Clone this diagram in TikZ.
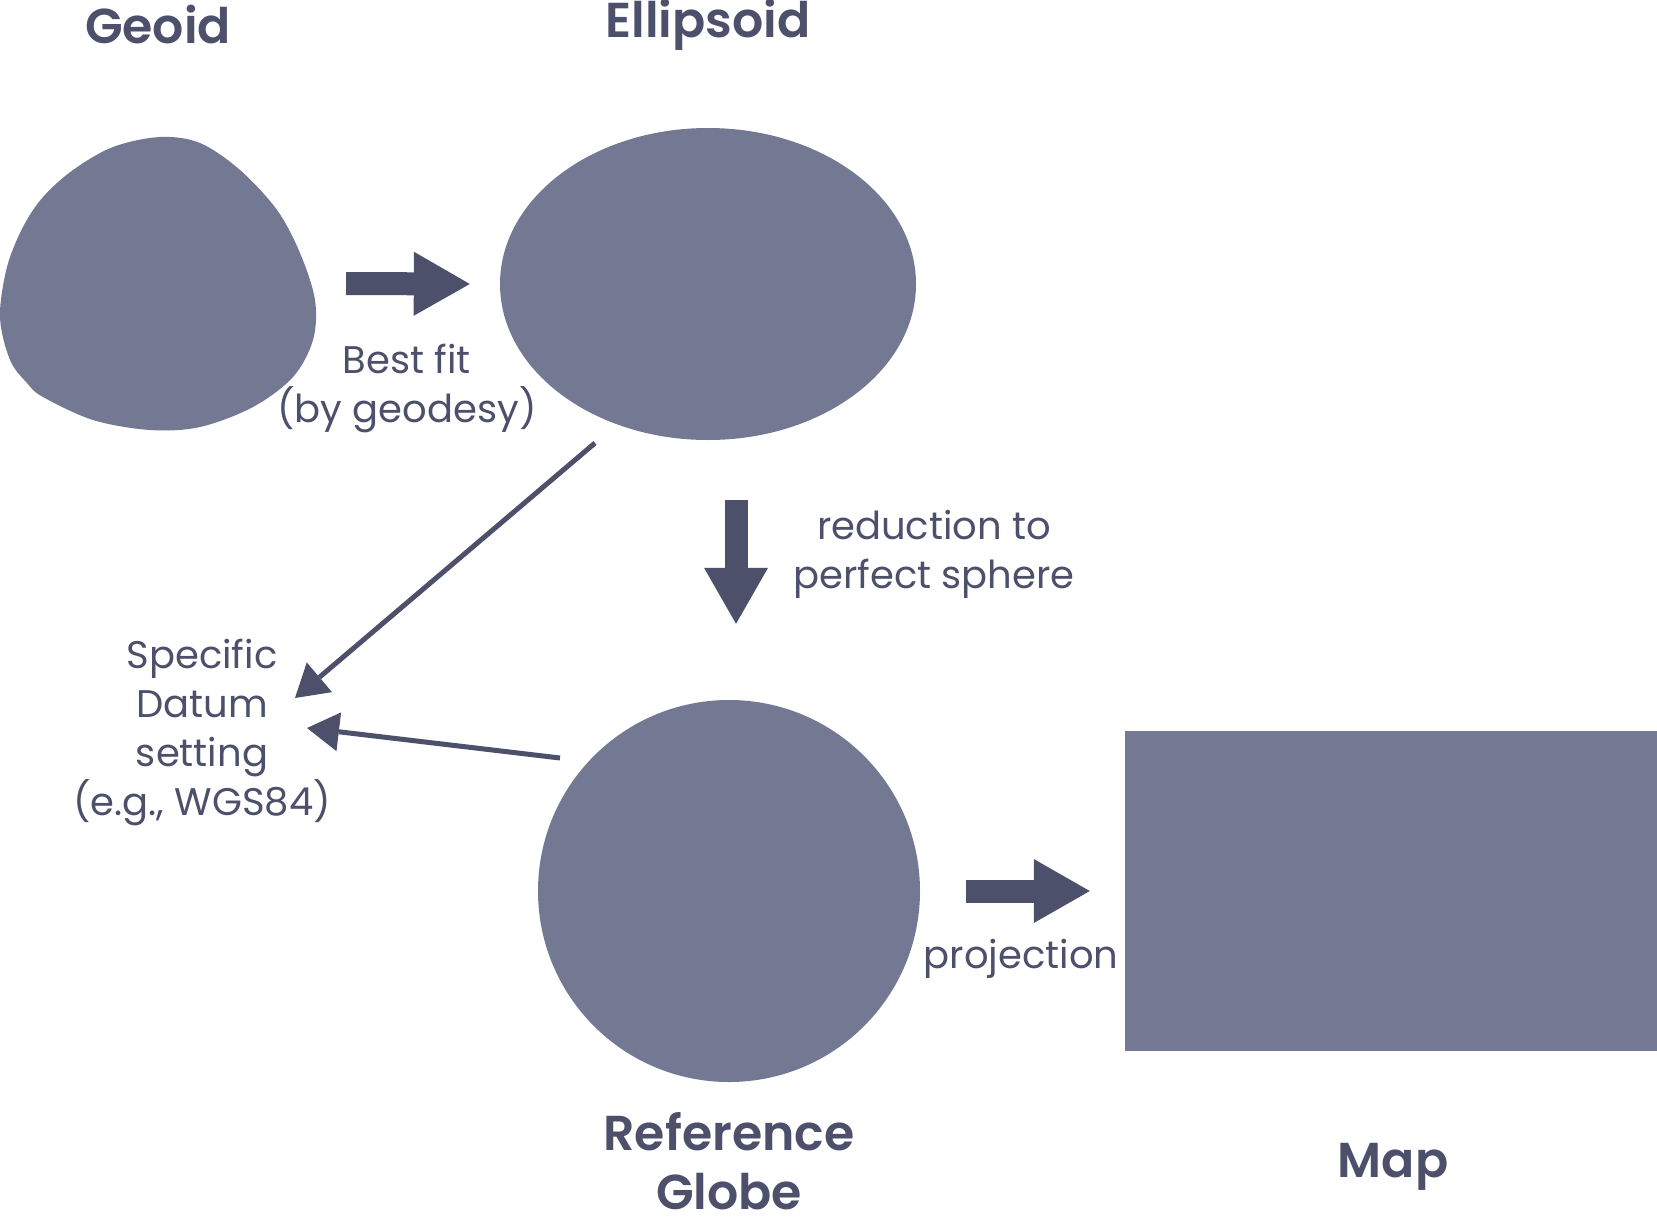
\documentclass[tikz,border=0pt]{standalone}
\usepackage{fontspec}
\setmainfont{Poppins}[BoldFont={* SemiBold}]
\usetikzlibrary{arrows.meta,shapes.geometric}

\begin{document}
\begin{tikzpicture}[x=1pt,y=-1pt]
  \definecolor{ink}{HTML}{4C506B}
  \definecolor{body}{HTML}{737893}
  \tikzstyle{title}=[text=ink, font=\fontsize{49}{59}\selectfont\bfseries, align=center, inner sep=0pt]
  \tikzstyle{lab}=[text=ink, font=\fontsize{38.5}{49}\selectfont, align=center, inner sep=0pt]
  \tikzstyle{fat}=[draw=ink, line width=23pt, -{Triangle[length=56pt, width=64pt, line width=0pt]}]
  \tikzstyle{arr}=[draw=ink, line width=5pt, -{Triangle[length=32pt, width=39pt, line width=0pt]}]

  \useasboundingbox (0,0) rectangle (1657,1218);

  % Geoid, an irregular lump; the node only gives it a box to aim at
  \fill[body] plot[smooth cycle, tension=0.55] coordinates {(160,137) (200,143) (240,170) (277,210) (300,253) (315,300) (313,340) (293,377) (253,407) (200,427) (150,430) (93,420) (43,397) (27,383) (10,360) (0,317) (7,267) (23,227) (43,197) (73,170) (113,147)};
  \node[minimum width=317pt, minimum height=293pt, inner sep=0pt] (geoid) at (158.5,283.5) {};
  \node[title, anchor=base] (geoidT) at (158,43) {Geoid};

  % Ellipsoid and reference globe
  \node[ellipse, fill=body, minimum width=416pt, minimum height=312pt, inner sep=0pt] (ell) at (708,284) {};
  \node[title, anchor=base] (ellT) at (708,37) {Ellipsoid};
  \node[circle, fill=body, minimum size=382pt, inner sep=0pt] (globe) at (729,891) {};
  \node[title] (globeT) at (729,1161) {Reference\\Globe};

  % Map sheet, flush with the right edge
  \node[rectangle, fill=body, minimum width=532pt, minimum height=320pt, inner sep=0pt] (map) at (1391,891) {};
  \node[title, anchor=base] (mapT) at (1393,1177) {Map};

  % Steps between the shapes
  \draw[fat] ([xshift=29pt]geoid.east) -- ([xshift=-30pt]ell.west);
  \node[lab] (fitT) at (407,388) {Best fit\\(by geodesy)};

  \draw[fat] ([shift={(28pt,-60pt)}]ell.south) -- ([shift={(7pt,76pt)}]globe.north);
  \node[lab] (redT) at (934,554) {reduction to\\perfect sphere};

  \draw[fat] ([xshift=46pt]globe.east) -- ([xshift=-35pt]map.west);
  \node[lab, anchor=base] (projT) at (1021,968) {projection};

  % Datum, reached from both the ellipsoid and the globe
  \node[lab] (datum) at (202,732) {Specific\\Datum\\setting\\(e.g., WGS84)};
  \coordinate (ellfoot) at (595,443);
  \coordinate (globeside) at (560,758);
  \coordinate (d1) at (295,698);
  \coordinate (d2) at (307,728);
  \draw[arr] (ellfoot) -- (d1);
  \draw[arr] (globeside) -- (d2);
\end{tikzpicture}
\end{document}
